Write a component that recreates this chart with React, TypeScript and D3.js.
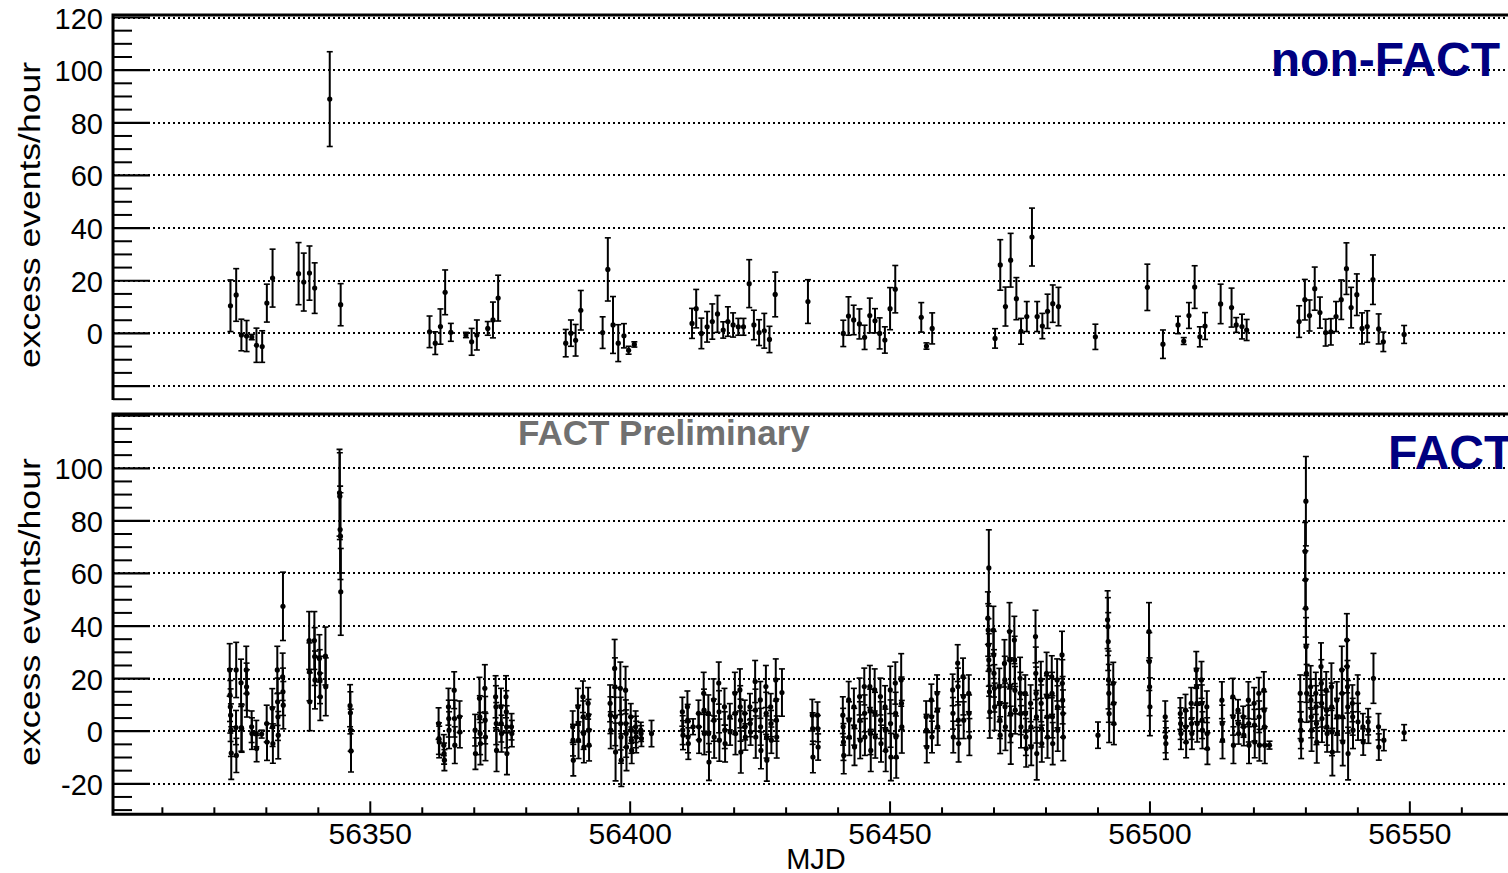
import React from 'react';
import * as d3 from 'd3';

// ---------------- DATA ----------------
// non-FACT panel: nightly points
const NONFACT_MJD = [
  56323.1, 56324.2, 56325.2, 56326.2, 56327.2, 56328.1, 56329.2, 56330.1, 56331.2,
  56336.2, 56337.2, 56338.3, 56339.3, 56342.2, 56344.3,
  56361.4, 56362.5, 56363.5, 56364.4, 56365.5, 56368.4, 56369.5, 56370.5, 56372.6, 56373.6, 56374.6,
  56387.6, 56388.6, 56389.5, 56390.5, 56394.7, 56395.7, 56396.7, 56397.7, 56398.8, 56399.7, 56400.8,
  56411.9, 56412.7, 56413.7, 56414.8, 56415.8, 56416.8, 56417.9, 56418.8, 56419.8, 56420.8, 56421.8,
  56422.9, 56423.8, 56424.8, 56425.8, 56426.8, 56427.9, 56434.2,
  56441.0, 56442.0, 56443.0, 56444.1, 56445.1, 56446.1, 56447.1, 56448.0, 56449.0, 56450.0, 56451.0,
  56456.0, 56457.0, 56458.1,
  56470.2, 56471.2, 56472.2, 56473.2, 56474.3, 56475.2, 56476.3, 56477.3, 56478.3, 56479.3, 56480.3,
  56481.3, 56482.4, 56489.5,
  56499.5, 56502.5, 56505.4, 56506.5, 56507.5, 56508.6, 56509.6, 56510.6, 56513.6, 56515.7, 56516.6,
  56517.7, 56518.6,
  56528.7, 56529.8, 56530.7, 56531.7, 56532.7, 56533.8, 56534.8, 56535.8, 56536.8, 56537.8, 56538.7,
  56539.8, 56540.8, 56541.8, 56542.9, 56544.0, 56544.9, 56548.9,
];
const NONFACT_VAL = [
  10.5, 14.6, -0.6, -1.0, -1.4, -4.5, -5.0, 11.5, 21.0,
  22.7, 19.5, 22.9, 17.2, 89.0, 10.9,
  0.6, -3.7, 2.6, 15.6, 0.4, -0.6, -3.2, -0.6, 1.9, 5.1, 13.4,
  -3.7, 0.1, -2.6, 8.8, 0.3, 24.3, 3.2, -3.7, -0.9, -6.4, -4.2,
  3.8, 9.4, 0.0, 2.5, 4.5, 7.4, 1.3, 4.5, 3.2, 2.5, 2.5,
  18.9, 3.2, 0.3, 1.0, -2.3, 14.8, 12.1,
  0.0, 6.6, 5.1, 3.6, -1.5, 6.8, 4.8, 0.0, -2.5, 9.4, 16.8,
  6.1, -4.8, 1.9,
  -1.9, 26.0, 10.2, 27.8, 13.2, 0.8, 6.4, 36.6, 6.4, 2.8, 8.4,
  11.3, 10.2, -1.3,
  17.5, -4.1, 3.2, -2.9, 6.8, 17.6, -1.3, 2.8, 11.2, 9.8, 3.2,
  2.6, 1.3,
  4.5, 12.8, 6.8, 17.0, 7.9, 0.3, 0.6, 6.4, 12.8, 24.6, 9.8,
  14.7, 1.9, 2.6, 20.4, 1.7, -3.2, -0.4,
];
const NONFACT_ERR = [
  9.8, 10.0, 6.0, 5.9, 1.0, 6.5, 6.0, 7.2, 11.0,
  11.8, 11.0, 10.3, 9.6, 18.0, 8.0,
  6.0, 4.3, 6.7, 8.5, 3.4, 1.0, 5.1, 5.7, 2.6, 6.8, 8.7,
  5.2, 5.0, 6.0, 7.5, 6.0, 12.0, 10.8, 7.0, 4.6, 1.5, 1.0,
  5.7, 7.3, 5.8, 5.8, 6.7, 7.0, 3.1, 5.6, 4.6, 3.2, 3.2,
  9.1, 5.6, 4.9, 6.6, 5.0, 8.5, 8.3,
  5.0, 7.3, 5.6, 5.7, 4.6, 6.6, 4.6, 5.9, 5.0, 8.0, 9.0,
  5.6, 1.2, 5.9,
  3.7, 9.6, 7.4, 10.2, 8.0, 4.9, 5.7, 11.0, 5.7, 4.8, 6.5,
  7.1, 7.3, 4.8,
  8.8, 5.4, 3.3, 1.3, 4.9, 8.1, 3.8, 5.1, 7.5, 7.4, 2.8,
  4.7, 4.0,
  6.0, 7.7, 5.9, 8.2, 5.9, 5.1, 5.0, 5.7, 7.5, 9.8, 7.7,
  7.9, 5.9, 6.0, 9.4, 5.7, 3.7, 3.4,
];

// FACT panel: observation nights, typical error per night, and the values of that night
const FACT_NIGHT_MJD = [
  56323.1, 56324.2, 56324.2, 56325.2, 56326.2, 56327.2, 56328.1, 56329.1, 56330.1, 56331.2, 56332.2,
  56333.2, 56333.2, 56338.3, 56339.3, 56340.3, 56341.4, 56344.2, 56346.2,
  56363.2, 56364.2, 56365.1, 56366.2, 56367.2, 56370.2, 56371.1, 56372.1, 56374.2, 56375.2, 56376.2, 56377.2,
  56389.0, 56390.0, 56391.0, 56392.0, 56396.2, 56397.1, 56398.2, 56399.2, 56400.2, 56401.1, 56402.1, 56404.1,
  56410.1, 56411.1, 56412.1, 56413.2, 56414.2, 56415.1, 56416.1, 56417.1, 56418.2, 56419.2, 56420.2,
  56421.2, 56422.1, 56423.1, 56424.1, 56425.1, 56426.2, 56427.1, 56428.1, 56429.2,
  56435.1, 56436.1,
  56441.0, 56442.1, 56443.1, 56444.2, 56445.1, 56446.2, 56447.1, 56448.2, 56449.1, 56450.1, 56451.1, 56452.2,
  56457.0, 56458.0, 56459.1, 56462.1, 56463.1, 56464.1, 56465.2,
  56469.0, 56469.0, 56470.0, 56471.1, 56472.1, 56473.1, 56474.0, 56475.1, 56476.1, 56477.1, 56478.1,
  56479.1, 56480.2, 56481.2, 56482.2, 56483.2,
  56490.0, 56492.0, 56493.0, 56499.9,
  56503.0, 56505.9, 56506.9, 56508.0, 56509.0, 56510.0, 56511.0, 56513.9, 56516.0, 56517.0, 56518.0,
  56519.0, 56520.1, 56521.0, 56522.0, 56523.0,
  56529.0, 56530.0, 56530.0, 56531.0, 56532.0, 56533.0, 56534.0, 56535.0, 56536.0, 56537.0, 56538.0,
  56539.0, 56540.0, 56541.0, 56542.0, 56543.0, 56544.0, 56545.0, 56548.9,
];
const FACT_NIGHT_ERR = [
  10, 10.5, 6.5, 9, 9, 6, 5, 1.5, 7, 7.5, 9,
  13, 9, 11, 11, 9, 11, 16.5, 8,
  6, 4, 7, 7, 6, 6, 8, 9, 8, 7, 8, 5,
  6, 7, 6, 6, 7, 11, 10, 9, 5, 6, 3, 5,
  5.5, 6, 3, 5, 8, 7, 8, 8, 7, 5, 8,
  8, 5, 5, 8, 7, 8, 5, 8, 9,
  6, 5,
  7, 7, 7, 7, 7, 8, 8, 7, 8, 9, 8, 10,
  6, 6, 7, 6, 7, 7, 7,
  14.5, 10, 9, 7, 9, 11, 9, 8, 7, 7, 10,
  7, 8, 8, 8, 9,
  5, 11, 8, 11,
  6, 6, 6, 6, 7, 7, 6, 7, 7, 4, 4,
  7, 6, 6, 7, 1.5,
  7, 17, 11, 8, 8, 9, 7, 9, 7, 9, 10,
  7, 7, 5, 5, 9.5, 5, 4, 3,
];
const FACT_NIGHT_VALUES = [
  [23.3, 13.7, 9.3, 6.1, 0.4, -8.3], [23.3], [1.4, -9.2], [18.4, 1.4, 1.0], [23.3, 16.9, 14.4],
  [1.7, -0.9], [-0.9, -6.6], [-1.1], [2.9, -4.1], [8.7, 1.7, -4.7], [23.3, 11.2, 5.5, -1.5],
  [47.5], [20.7, 15.0, 9.9], [34.5, 22.6, 11.2], [34.5, 28.4, 19.5], [27.7, 22.0, 19.5, 13.1],
  [28.6, 16.9], [90.7, 89.4, 76.7, 74.2, 53.0], [9.7, 7.0, 0.4, -7.5],
  [2.9, -2.8, -4.1], [-5.3, -8.5, -11.0], [9.3, 4.8, 0.4], [15.6, 4.8, -5.3], [5.5, -0.3],
  [0.4, -8.5], [12.5, 5.5, -0.9, -4.7], [16.3, 4.2, -2.2], [13.1, 9.3, 2.9, -7.3], [9.3, 2.9, -0.9],
  [13.1, 7.4, 1.7, -8.5], [1.7, -0.9],
  [1.7, -3.4, -11.0], [9.3, 2.9, -3.4], [13.1, 5.5, -0.9, -6.0], [10.6, 6.1, 0.4, -5.3],
  [10.6, 6.1, 0.4], [23.9, 16.9, 5.5, -7.9], [16.3, 2.9, -2.2, -11.0], [15.6, 2.9, -0.9, -6.0],
  [5.5, 0.4, -3.4, -7.3], [1.7, -0.3, -2.2], [0.4, -0.9, -2.8], [-0.9],
  [7.4, 0.4, -1.5], [9.3, 4.2, -2.2, -4.7], [1.7], [6.8, 1.7, -3.4], [14.4, 8.0, -0.9],
  [6.8, -0.9, -11.7], [11.9, 4.2, -2.2], [18.3, 7.4, -3.4], [9.3, 0.4, -4.7], [5.5, -0.3],
  [14.4, 6.8, -0.9], [15.7, 9.3, 4.2, -7.9], [6.8, 1.7, -2.2], [9.3, 2.9, -0.3], [18.9, 8.0, -2.2],
  [11.9, 1.7, -7.3], [17.0, 6.8, -2.2, -11.0], [9.3, 2.9, -3.4], [19.5, 11.9, 4.2, -2.2], [14.7],
  [6.1, 1.0, -9.8], [6.1, 1.0, -6.0],
  [6.1, 1.7, -4.1, -9.2], [11.9, 4.2, -2.2], [9.3, 1.7, -6.0], [13.2, 4.2, -3.4], [17.0, 6.8, -2.2],
  [17.0, 8.0, -0.9, -7.3], [15.7, 6.8, -2.2], [13.2, 4.2, -4.7], [9.3, 0.4, -7.3], [15.7, 2.9, -9.8],
  [18.3, 6.8, -2.2, -9.8], [19.5, 10.6, 1.7],
  [5.5, 0.4, -6.0], [11.9, 5.5, -2.2], [14.4, 8.0, 1.7], [15.7, 6.8, -2.2], [25.9, 17.0, 4.2, -4.7],
  [20.8, 13.2, 4.2], [14.4, 6.8, -2.2],
  [62.1], [43.0, 38.5, 32.8, 27.1, 23.3, 15.0, 7.4], [38.5, 29.0, 22.0, 16.3, 9.3],
  [16.9, 10.6, 4.2, -1.5], [25.8, 19.5, 9.3, 1.7], [37.9, 27.1, 16.9, 6.7, -1.5],
  [34.7, 27.1, 15.6, 8.0], [20.1, 14.4, 6.7, 1.7], [14.4, 6.7, -2.2, -6.6], [10.6, 1.7, -6.0],
  [36.0, 22.0, 14.4, 5.5, -8.5], [19.5, 10.6, 1.0, -4.7], [22.0, 13.1, 5.5, -2.2],
  [20.7, 14.4, 5.5, -4.7], [19.5, 9.3, 0.4], [29.0, 18.2, 11.8, 6.7, -2.2],
  [-1.5], [42.4, 39.8, 34.1, 19.5, 14.4, 6.7], [18.2, 10.6, 2.9], [37.9, 26.5, 16.9, 9.3],
  [5.5, -2.2, -4.7], [6.7, 2.9, -0.9], [8.0, 1.7, -4.1], [10.6, 2.9, -0.9], [23.3, 16.9, 10.6, 2.9],
  [19.5, 10.6, 4.2, 0.4], [9.3, -0.9, -6.6], [11.8, 2.9, -3.4], [13.1, 5.5, -5.3], [8.0, 2.9, -0.9],
  [5.5, 1.7, -1.5], [11.8, 2.9, -5.3], [10.6, 2.3, -4.1], [14.4, 5.5, -5.3], [15.6, 8.0, 1.7, -5.3],
  [-5.3],
  [14.4, 4.2, 0.4, -3.4], [87.5], [68.4, 57.6, 46.8, 32.2, 22.0, 14.4], [16.9, 11.8, 5.5, 0.4],
  [14.4, 9.3, 2.9, -4.1], [24.6, 18.2, 10.6, 4.8], [15.6, 8.0, 1.7, -0.9], [16.9, 9.3, -0.3, -7.9],
  [11.8, 5.5, -0.9], [23.3, 14.4, 5.5, -4.1], [34.7, 24.6, 16.9, 9.3, -8.5], [10.6, 5.5, 0.4],
  [14.4, 3.6], [1.7, -4.1], [3.6, 0.4], [20.1], [1.7, -6.0], [-3.4], [-0.5],
];

const X_MAJOR = [56350, 56400, 56450, 56500, 56550];
const Y_MAJOR = [-20, 0, 20, 40, 60, 80, 100, 120];
const TOP_LABELS = [0, 20, 40, 60, 80, 100, 120];
const BOTTOM_LABELS = [-20, 0, 20, 40, 60, 80, 100];

// ---------------- LAYOUT ----------------
const W = 1508;
const H = 873;
const LEFT = 113;
const RIGHT = 1519;
const FONT = "'Liberation Sans', Arial, Helvetica, sans-serif";

type Pt = { x: number; y: number; e: number };

function Panel({
  yScale, top, bottom, points, labels, minorFrom, drawXAxis, xScale,
}: {
  yScale: d3.ScaleLinear<number, number>; top: number; bottom: number; points: Pt[];
  labels: number[]; minorFrom: number; drawXAxis: boolean; xScale: d3.ScaleLinear<number, number>;
}) {
  const minors = d3.range(minorFrom, 121, 5).filter((v) => v % 20 !== 0);
  const [d0, d1] = yScale.domain();
  const clipId = `clip${top}`;
  const xMinor = d3.range(56310, 56571, 10).filter((v) => v % 50 !== 0);
  const majors = Y_MAJOR.filter((v) => v >= d0 && v <= d1);
  return (
    <g>
      <defs>
        <clipPath id={clipId}>
          <rect x={LEFT} y={top} width={RIGHT - LEFT} height={bottom - top} />
        </clipPath>
      </defs>
      {majors.map((v) => (
        <line key={`g${v}`} x1={LEFT} x2={RIGHT} y1={Math.round(yScale(v))} y2={Math.round(yScale(v))}
          stroke="#000" strokeWidth={2} strokeDasharray="2 3" />
      ))}
      {majors.map((v) => (
        <line key={`M${v}`} x1={LEFT} x2={LEFT + 37} y1={yScale(v)} y2={yScale(v)}
          stroke="#000" strokeWidth={2.2} />
      ))}
      {minors.map((v) => (
        <line key={`m${v}`} x1={LEFT} x2={LEFT + 19} y1={yScale(v)} y2={yScale(v)}
          stroke="#000" strokeWidth={2} />
      ))}
      {labels.map((v) => (
        <text key={`l${v}`} x={103} y={yScale(v) + 11} textAnchor="end"
          fontFamily={FONT} fontSize={29} fill="#000">{v}</text>
      ))}
      {drawXAxis && (
        <g>
          {X_MAJOR.map((v) => (
            <g key={`x${v}`}>
              <line x1={xScale(v)} x2={xScale(v)} y1={bottom} y2={bottom - 13} stroke="#000" strokeWidth={2} />
              <text x={xScale(v)} y={843.5} textAnchor="middle" fontFamily={FONT} fontSize={30} fill="#000">{v}</text>
            </g>
          ))}
          {xMinor.map((v) => (
            <line key={`xm${v}`} x1={xScale(v)} x2={xScale(v)} y1={bottom} y2={bottom - 7} stroke="#000" strokeWidth={2} />
          ))}
        </g>
      )}
      <g clipPath={`url(#${clipId})`}>
        {points.map((p, i) => {
          const cx = xScale(p.x);
          const y0 = yScale(p.y - p.e);
          const y1 = yScale(p.y + p.e);
          return (
            <g key={i}>
              <line x1={cx} x2={cx} y1={y0} y2={y1} stroke="#000" strokeWidth={2} />
              <line x1={cx - 3} x2={cx + 3} y1={y0} y2={y0} stroke="#000" strokeWidth={1.6} />
              <line x1={cx - 3} x2={cx + 3} y1={y1} y2={y1} stroke="#000" strokeWidth={1.6} />
              <circle cx={cx} cy={yScale(p.y)} r={2.6} fill="#000" />
            </g>
          );
        })}
      </g>
      {drawXAxis ? (
        <path d={`M${RIGHT},${top} H${LEFT} V${bottom} H${RIGHT}`} fill="none" stroke="#000" strokeWidth={3} />
      ) : (
        <path d={`M${LEFT},${bottom} V${top} H${RIGHT}`} fill="none" stroke="#000" strokeWidth={3} />
      )}
    </g>
  );
}

export default function App() {
  const x = d3.scaleLinear().domain([56300.5, 56571]).range([LEFT, RIGHT]);
  const yTop = d3.scaleLinear().domain([-25.3, 120.95]).range([400, 15]);
  const yBot = d3.scaleLinear().domain([-31.6, 120.65]).range([814.3, 414]);

  const topPts: Pt[] = NONFACT_MJD.map((m, i) => ({ x: m, y: NONFACT_VAL[i], e: NONFACT_ERR[i] }));
  const botPts: Pt[] = [];
  FACT_NIGHT_MJD.forEach((m, n) => {
    const vals = FACT_NIGHT_VALUES[n];
    vals.forEach((v, i) => {
      botPts.push({ x: m + (i - (vals.length - 1) / 2) * 0.06, y: v, e: FACT_NIGHT_ERR[n] });
    });
  });

  return (
    <svg width={W} height={H} viewBox={`0 0 ${W} ${H}`}
      style={{ position: 'absolute', left: 0, top: 0, background: '#fff' }}>
      <rect x={0} y={0} width={W} height={H} fill="#fff" />
      <Panel yScale={yTop} top={15} bottom={400} points={topPts} labels={TOP_LABELS}
        minorFrom={-25} drawXAxis={false} xScale={x} />
      <Panel yScale={yBot} top={414} bottom={814.3} points={botPts} labels={BOTTOM_LABELS}
        minorFrom={-30} drawXAxis={true} xScale={x} />

      <text transform="translate(40,215) rotate(-90)" textAnchor="middle" fontFamily={FONT}
        fontSize={30} textLength={306} lengthAdjust="spacingAndGlyphs" fill="#000">excess events/hour</text>
      <text transform="translate(40,612) rotate(-90)" textAnchor="middle" fontFamily={FONT}
        fontSize={30} textLength={308} lengthAdjust="spacingAndGlyphs" fill="#000">excess events/hour</text>

      <text x={816} y={869} textAnchor="middle" fontFamily={FONT} fontSize={29} fill="#000">MJD</text>

      <text x={1500} y={76} textAnchor="end" fontFamily={FONT} fontWeight="bold" fontSize={48} fill="#000080">non-FACT</text>
      <text x={1388} y={469} textAnchor="start" fontFamily={FONT} fontWeight="bold" fontSize={48} fill="#000080">FACT</text>
      <text x={518} y={445} textAnchor="start" fontFamily={FONT} fontWeight="bold" fontSize={35} fill="#707070">FACT Preliminary</text>
    </svg>
  );
}
